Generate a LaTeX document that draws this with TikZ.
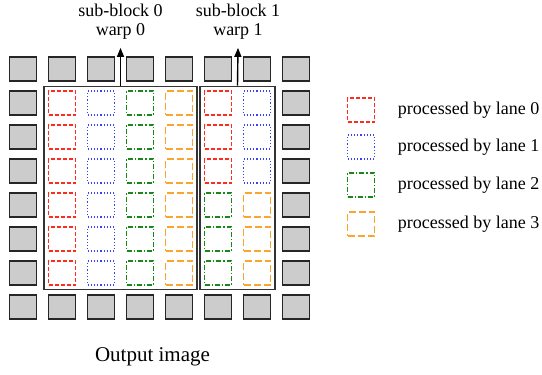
\documentclass[tikz,border=0pt]{standalone}
\usepackage{fontspec}
\setmainfont{Liberation Serif}
\usepackage{xcolor}
\usetikzlibrary{
  arrows.meta,
  positioning,
  fit
}
\definecolor{lanered}{RGB}{250,45,30}
\definecolor{laneblue}{RGB}{55,65,245}
\definecolor{lanegreen}{RGB}{25,135,25}
\definecolor{laneorange}{RGB}{250,165,45}
\definecolor{cellgray}{RGB}{204,204,204}

\begin{document}
\begin{tikzpicture}[x=1pt, y=-1pt,
  cell/.style={draw=black!85, fill=cellgray, line width=1.2pt,
               minimum width=27pt, minimum height=24pt, inner sep=0pt},
  lanebox/.style={line width=1.2pt, minimum width=27pt, minimum height=24pt, inner sep=0pt},
  lane0/.style={lanebox, draw=lanered, dash pattern=on 4pt off 2pt},
  lane1/.style={lanebox, draw=laneblue, dash pattern=on 1.2pt off 2pt},
  lane2/.style={lanebox, draw=lanegreen, dash pattern=on 5pt off 2pt on 1.2pt off 2pt},
  lane3/.style={lanebox, draw=laneorange, dash pattern=on 7pt off 3pt},
  block/.style={draw=black!80, line width=1.4pt, inner sep=4pt},
  arr/.style={-{Triangle[length=9pt,width=7pt]}, line width=1.4pt},
  lbl/.style={font=\fontsize{18}{19}\selectfont, align=center, inner sep=2pt},
  note/.style={font=\fontsize{18}{20}\selectfont, inner sep=2pt}
]
  \useasboundingbox (0,0) rectangle (542,375);

  % border of the output image
  \foreach \i in {0,...,7} {
    \node[cell] (top-\i) at ({23+39*\i},69) {};
    \node[cell] (bot-\i) at ({23+39*\i},307) {};
  }
  \foreach \j in {1,...,6} {
    \node[cell] (left-\j)  at (23,{69+34*\j}) {};
    \node[cell] (right-\j) at (296,{69+34*\j}) {};
  }

  % sub-block 0: one column per lane
  \foreach \j in {1,...,6}
    \foreach \l in {0,...,3}
      \node[lane\l] (sa-\j-\l) at ({62+39*\l},{69+34*\j}) {};

  % sub-block 1: two lanes on top, two below
  \foreach \j in {1,2,3} {
    \node[lane0] (sb-\j-0) at (218,{69+34*\j}) {};
    \node[lane1] (sb-\j-1) at (257,{69+34*\j}) {};
  }
  \foreach \j in {4,5,6} {
    \node[lane2] (sb-\j-0) at (218,{69+34*\j}) {};
    \node[lane3] (sb-\j-1) at (257,{69+34*\j}) {};
  }

  \node[block, fit=(sa-1-0)(sa-6-3)] (block0) {};
  \node[block, fit=(sb-1-0)(sb-6-1)] (block1) {};

  % warps
  \node[lbl] (warp0) at (120.5,22) {sub-block 0\\warp 0};
  \node[lbl] (warp1) at (238,22) {sub-block 1\\warp 1};
  \draw[arr] (block0.north) -- ([yshift=-6pt]warp0.south);
  \draw[arr] (block1.north) -- ([yshift=-6pt]warp1.south);

  % legend
  \node[lane0] (key0) at (361,110) {};
  \node[lane1] (key1) at (361,147) {};
  \node[lane2] (key2) at (361,185) {};
  \node[lane3] (key3) at (361,224) {};
  \node[note, right=20.5pt of key0] (txt0) {processed by lane 0};
  \node[note, right=20.5pt of key1] (txt1) {processed by lane 1};
  \node[note, right=20.5pt of key2] (txt2) {processed by lane 2};
  \node[note, right=20.5pt of key3] (txt3) {processed by lane 3};

  \node[font=\fontsize{21}{24}\selectfont] (caption) at (152.5,357) {Output image};
\end{tikzpicture}
\end{document}
